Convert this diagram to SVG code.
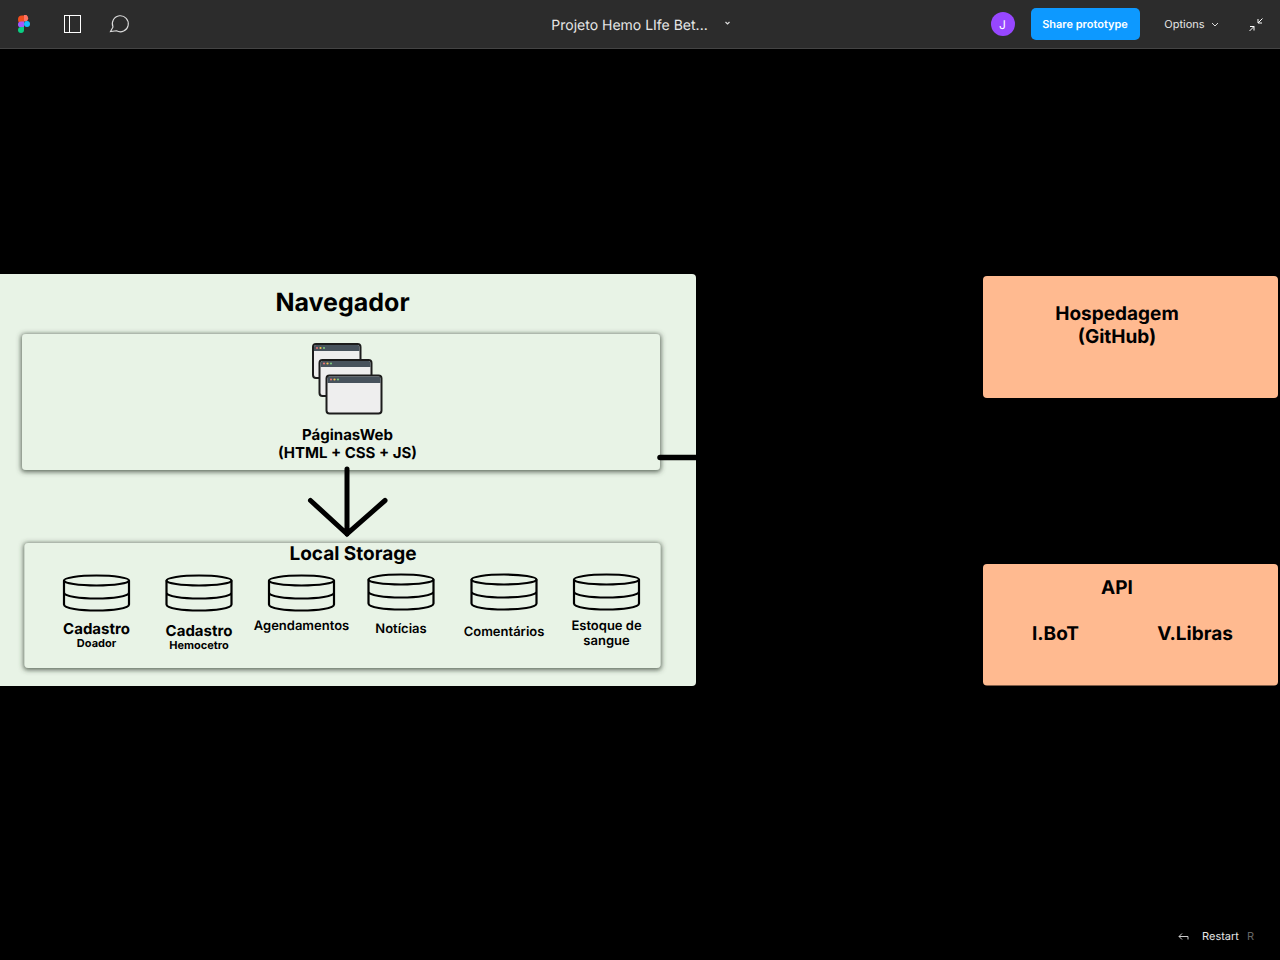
<svg xmlns="http://www.w3.org/2000/svg" width="1280" height="960" viewBox="0 0 1280 960">
<style>
text{font-family:Inter,"Liberation Sans",sans-serif;text-anchor:middle;fill:#000;font-weight:700;text-rendering:geometricPrecision}
.ui{fill:#e6e6e6;font-weight:400}
.box{fill:#e8f3e6}
.inner{fill:#e8f3e6;filter:url(#sh)}
.orange{fill:#ffba90}
.line{fill:none;stroke:#000;stroke-linecap:round}
.db{fill:none;stroke:#000;stroke-width:2.2}
.t13{font-size:13px}.t11{font-size:11px}.t15{font-size:15px}.t19{font-size:19px}
.frame{fill:#eeeeee;stroke:#1c1c1c;stroke-width:2}
.bar{fill:#47525c}
</style>
<defs>
<filter id="sh" x="-5%" y="-10%" width="110%" height="120%"><feMorphology in="SourceAlpha" operator="dilate" radius="1" result="d"/><feGaussianBlur in="d" stdDeviation="2.600" result="b"/><feOffset in="b" dy="0.500" result="o"/><feFlood flood-color="#3a4639" flood-opacity=".8"/><feComposite in2="o" operator="in" result="s"/><feMerge><feMergeNode in="s"/><feMergeNode in="SourceGraphic"/></feMerge></filter>
<g id="cyl"><ellipse cx="0" cy="6" rx="32.500" ry="5" class="db"/><path d="M-32.500 6V30C-32.500 34 -16 36 0 36S32.500 34 32.500 30V6M-32.500 18C-32.500 22 -16 24 0 24S32.500 22 32.500 18" class="db"/></g>
<g id="dots"><circle cx="0" cy="0" r="1.100" fill="#e57373"/><circle cx="3.500" cy="0" r="1.100" fill="#f2c14e"/><circle cx="7" cy="0" r="1.100" fill="#7bc47f"/></g>
</defs>
<rect width="1280" height="960" fill="#000"/>

<g id="toolbar">
<rect width="1280" height="48" fill="#2c2c2c"/><rect y="48" width="1280" height="1" fill="#444"/>
<g id="figma-logo"><path d="M18 19.500a4 4 0 0 1 4-4H24V23.500H22a4 4 0 0 1-4-4Z" fill="#f24e1e"/><path d="M24 15h2.500a4 4 0 0 1 0 6.500H24Z" fill="#ff7262"/><path d="M18 24.500a3 3 0 0 1 3-3H24V27.500H21a3 3 0 0 1-3-3Z" fill="#a259ff"/><circle cx="27" cy="24" r="3" fill="#1abcfe"/><path d="M18 30a3 3 0 0 1 3-3H24V30A3 3 0 0 1 18 30Z" fill="#0acf83"/></g>
<g id="panel-icon" fill="none" stroke="#fff" stroke-width="1"><rect x="64.500" y="15.500" width="16" height="17"/><path d="M69.500 15.500V32.500"/></g>
<path id="comment-icon" d="M110.500 31.500 L113 27A8 8 0 1 1 116.500 30.800L110.500 31.500Z" fill="none" stroke="#ddd" stroke-width="1.100"/>
<text x="629.500" y="30" class="ui" font-size="14">Projeto Hemo LIfe Bet...</text>
<path d="M725.500 22l2 2 2-2" fill="none" stroke="#ddd" stroke-width="1.200"/>
<g id="avatar"><circle cx="1003" cy="24" r="12" fill="#9747ff"/><text x="1002.500" y="28.500" font-size="12" style="fill:#fff;font-weight:400">J</text></g>
<g id="share"><rect x="1031" y="8" width="109" height="32" rx="5" fill="#0d99ff"/><text x="1085" y="28" font-size="11" style="fill:#fff;font-weight:600">Share prototype</text></g>
<text x="1184.500" y="28" class="ui" font-size="11">Options</text>
<path d="M1212 23l3 3 3-3" fill="none" stroke="#ddd"/>
<path d="M1258 23l4.500-4.500M1258 19v4h4M1254 26.500l-4.500 4.500M1250 26.500h4v4" fill="none" stroke="#fff" stroke-width="1"/>
</g>

<g id="navegador">
<rect class="box" x="-6" y="274" width="702" height="412" rx="4"/>
<text x="342.500" y="311" style="font-size:25px">Navegador</text>
</g>
<g id="paginas-web">
<rect class="inner" x="22" y="334" width="638" height="136" rx="4"/>
<g id="window-1"><rect class="frame" x="313" y="344" width="47.500" height="34" rx="3"/><path class="bar" d="M314 351V347Q314 345 316 345H357.500Q359.500 345 359.500 347V351Z"/><use href="#dots" x="317" y="348"/></g>
<g id="window-2"><rect class="frame" x="319.500" y="360" width="52" height="36" rx="3"/><path class="bar" d="M320.500 367V363Q320.500 361 322.500 361H368.500Q370.500 361 370.500 363V367Z"/><use href="#dots" x="324" y="363.500"/></g>
<g id="window-3"><rect class="frame" x="326.500" y="375.500" width="55" height="38" rx="3"/><path class="bar" d="M327.500 383V378.500Q327.500 376.500 329.500 376.500H378.500Q380.500 376.500 380.500 378.500V383Z"/><use href="#dots" x="331" y="379.500"/></g>
<text x="347.500" y="440" class="t15">PáginasWeb</text>
<text x="347.500" y="458" class="t15">(HTML + CSS + JS)</text>
</g>
<g id="local-storage">
<rect class="inner" x="24.500" y="543" width="636" height="125" rx="4"/>
<text x="353" y="560" class="t19">Local Storage</text>
<use href="#cyl" x="96.500" y="574.500"/><use href="#cyl" x="199" y="574.500"/><use href="#cyl" x="301.500" y="574.500"/>
<use href="#cyl" x="401" y="573.500"/><use href="#cyl" x="504" y="573.500"/><use href="#cyl" x="606.500" y="573.500"/>
<text x="96.500" y="634" class="t15">Cadastro</text><text x="96.500" y="647" class="t11">Doador</text>
<text x="199" y="636" class="t15">Cadastro</text><text x="199" y="649" class="t11">Hemocetro</text>
<text x="301.500" y="630" class="t13" style="font-weight:600">Agendamentos</text>
<text x="401" y="633" class="t13" style="font-weight:600">Notícias</text>
<text x="504" y="636" class="t13" style="font-weight:600">Comentários</text>
<text x="606.500" y="630" class="t13" style="font-weight:600">Estoque de</text><text x="606.500" y="645" class="t13" style="font-weight:600">sangue</text>
</g>
<g id="hospedagem">
<rect class="orange" x="983" y="276" width="295" height="122" rx="4"/>
<text x="1117" y="320" class="t19">Hospedagem</text><text x="1117" y="343" class="t19">(GitHub)</text>
</g>
<g id="api">
<rect class="orange" x="983" y="564" width="295" height="121.500" rx="4"/>
<text x="1117" y="594" class="t19">API</text>
<text x="1055.500" y="640" class="t19">I.BoT</text><text x="1195" y="640" class="t19">V.Libras</text>
</g>
<g id="connectors">
<path class="line" stroke-width="5" d="M347 469V534M310.500 500.500L347 534L385 500.500"/>
<path d="M660 457.500H696" fill="none" stroke="#000" stroke-width="5.500" stroke-linecap="round"/>
</g>
<g id="footer">
<path d="M1179 936.500h9v3M1179 936.500l3-3M1179 936.500l3 3" fill="none" stroke="#ccc" stroke-width="1"/>
<text x="1220.500" y="940" class="ui" font-size="11">Restart</text>
<text x="1250.500" y="940" font-size="11" style="fill:#666;font-weight:400">R</text>
</g>
</svg>
